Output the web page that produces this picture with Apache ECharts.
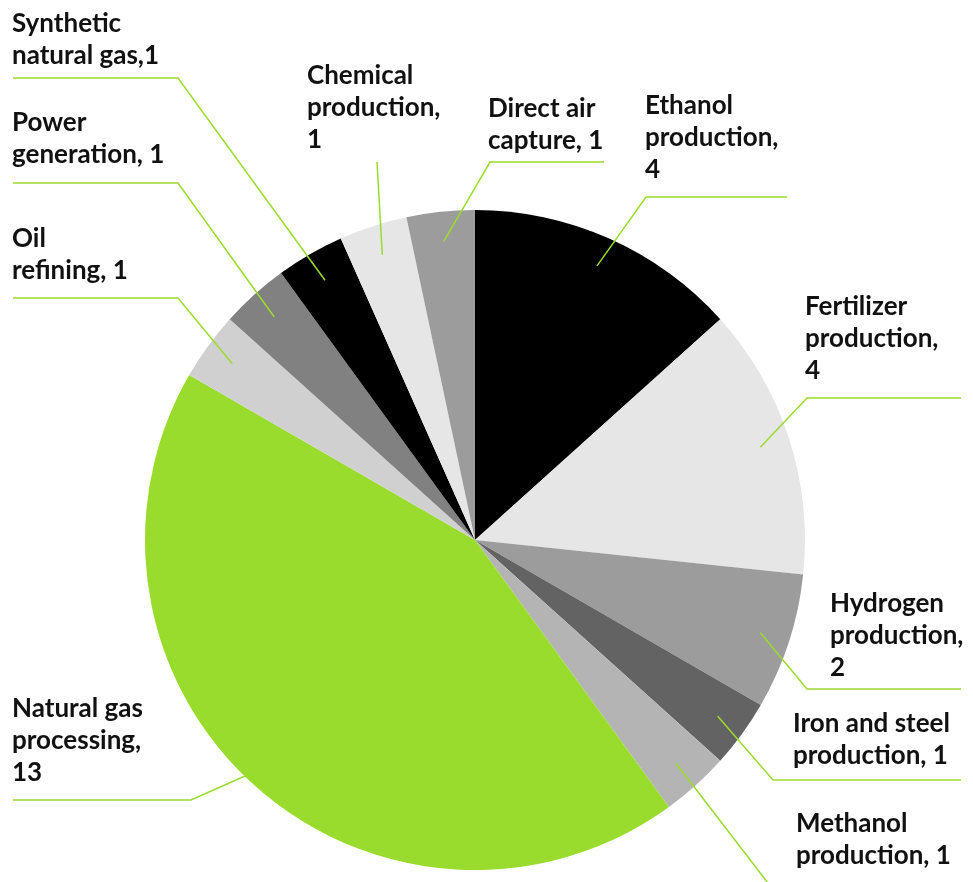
<!DOCTYPE html>
<html>
<head>
<meta charset="utf-8">
<script src="https://cdn.jsdelivr.net/npm/echarts@6/dist/echarts.min.js"></script>
<style>
html,body{margin:0;padding:0;background:#ffffff;}
#chart{width:973px;height:882px;}
</style>
</head>
<body>
<div id="chart"></div>
<script>
// ---- data ----
const categories = [
  'Ethanol production', 'Fertilizer production', 'Hydrogen production',
  'Iron and steel production', 'Methanol production', 'Natural gas processing',
  'Oil refining', 'Power generation', 'Synthetic natural gas',
  'Chemical production', 'Direct air capture'
];
const values = [4, 4, 2, 1, 1, 13, 1, 1, 1, 1, 1];

// label text templates ({c} = value)
const labelTemplates = [
  'Ethanol\nproduction,\n{c}', 'Fertilizer\nproduction,\n{c}', 'Hydrogen\nproduction,\n{c}',
  'Iron and steel\nproduction, {c}', 'Methanol\nproduction, {c}', 'Natural gas\nprocessing,\n{c}',
  'Oil\nrefining, {c}', 'Power\ngeneration, {c}', 'Synthetic\nnatural gas,{c}',
  'Chemical\nproduction,\n{c}', 'Direct air\ncapture, {c}'
];

// ---- styles ----
const colors = [
  '#000000', '#e6e6e6', '#9c9c9c', '#636363', '#b4b4b4', '#9adc2e',
  '#d0d0d0', '#818181', '#000000', '#e6e6e6', '#9c9c9c'
];
const lineColor = '#9adc2e';
// label placement: [textLeft, textBottom, elbowX, elbowY, endX]
const labelPlacement = [
  [645, 186, 646, 197, 787],
  [805, 387, 807, 398, 961],
  [830, 684, 807, 689, 961],
  [793, 772, 773, 780, 961],
  [796, 872, 791, 913, 961],
  [12, 789, 191, 800, 13],
  [12, 287, 178, 298, 13],
  [12, 171, 178, 183, 13],
  [12, 72, 178, 78, 13],
  [307, 156, 377, 162, 377],
  [488, 157, 490, 162, 604]
];
const lineInset = 30; // line starts this far inside slice edge

const chart = echarts.init(document.getElementById('chart'), null, {renderer: 'canvas'});

const pieGeom = {
  type: 'pie',
  center: [475, 540],
  radius: 330,
  startAngle: 90,
  clockwise: true,
  avoidLabelOverlap: false,
  minShowLabelAngle: 0,
  emphasis: {disabled: true}
};

// base slices
const sliceData = categories.map((name, i) => ({
  name: name, value: values[i], itemStyle: {color: colors[i]}
}));
// overlay (transparent) slices that carry labels + leader lines on top
const labelData = categories.map((name, i) => ({
  name: name, value: values[i],
  itemStyle: {color: 'rgba(0,0,0,0)'},
  label: {formatter: labelTemplates[i]}
}));

chart.setOption({
  backgroundColor: '#ffffff',
  animation: false,
  series: [
    Object.assign({}, pieGeom, {
      z: 1,
      itemStyle: {borderWidth: 0},
      label: {show: false},
      labelLine: {show: false},
      data: sliceData
    }),
    Object.assign({}, pieGeom, {
      z: 5,
      silent: true,
      itemStyle: {borderWidth: 0},
      label: {
        show: true,
        position: 'outside',
        fontFamily: 'Lato',
        fontWeight: 'bold',
        fontSize: 26,
        lineHeight: 32,
        color: '#111111',
        align: 'left'
      },
      labelLine: {
        show: true,
        length: 20,
        length2: 10,
        smooth: false,
        lineStyle: {color: lineColor, width: 1.5}
      },
      labelLayout: function (params) {
        const idx = params.dataIndex;
        const p = labelPlacement[idx];
        const lay = chart.getModel().getSeriesByIndex(1).getData().getItemLayout(idx);
        const mid = (lay.startAngle + lay.endAngle) / 2;
        const rr = lay.r - lineInset;
        const sx = lay.cx + rr * Math.cos(mid);
        const sy = lay.cy + rr * Math.sin(mid);
        return {
          x: p[0],
          y: p[1],
          align: 'left',
          verticalAlign: 'bottom',
          labelLinePoints: [[sx, sy], [p[2], p[3]], [p[4], p[3]]]
        };
      },
      data: labelData
    })
  ]
});
</script>
</body>
</html>
